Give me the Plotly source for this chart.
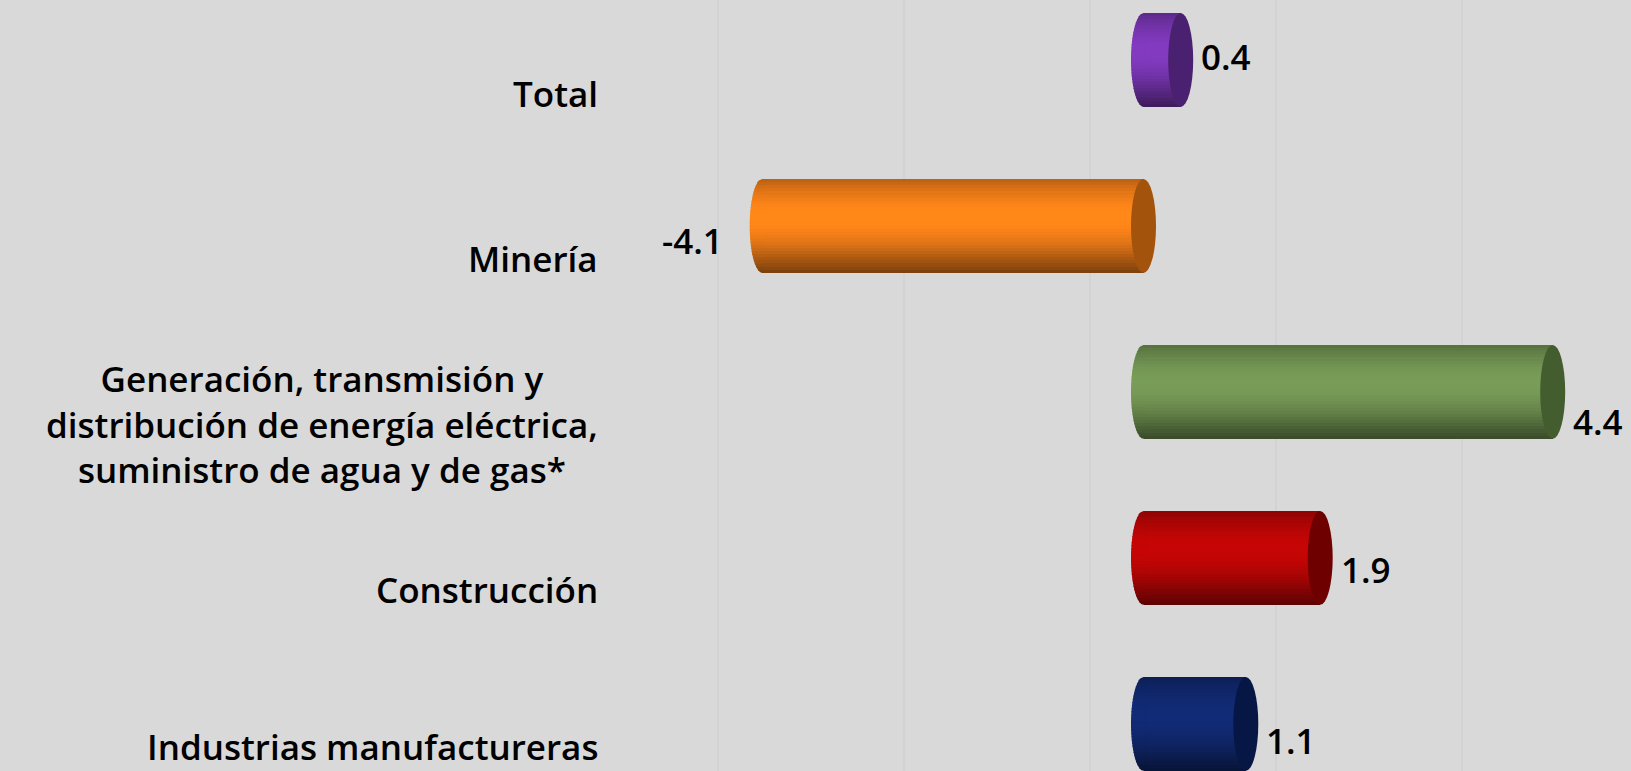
import numpy as np
import plotly.graph_objects as go

# Annual variation by sector (%)
categories = [
    "Total",
    "Minería",
    "Generación, transmisión y<br>distribución de energía eléctrica,<br>suministro de agua y de gas*",
    "Construcción",
    "Industrias manufactureras",
]
values = [0.4, -4.1, 4.4, 1.9, 1.1]

# Cylinder colours: lit body colour and the darker end face
body_colors = ["#8039bd", "#ff8519", "#769a56", "#c20505", "#112a74"]
face_colors = ["#4a2070", "#a4530c", "#445d2f", "#6e0000", "#061746"]

# Vertical nudge of each value label (pixels), mimicking the 3D layout
label_nudge_px = [-3, 15, 30, 12, 17]
# Vertical nudge of each category label (pixels)
cat_nudge_px = [34, 33, 32, 32, 23]

W, H = 1631, 771
X_RANGE = [-12.296, 5.242]
Y_RANGE = [4.284, -0.361]
px_per_x = W / (X_RANGE[1] - X_RANGE[0])
px_per_y = H / (Y_RANGE[0] - Y_RANGE[1])

BAR_H = 0.566            # bar thickness in category units
B = BAR_H / 2            # vertical semi-axis of cylinder ends
A = 12.5 / px_per_x      # horizontal semi-axis of cylinder ends
N = 30                   # shading stripes per cylinder
FONT = "Open Sans"
FONT_SIZE = 35

rows = list(range(len(categories)))


def hex_rgb(c):
    c = c.lstrip("#")
    return [int(c[i:i + 2], 16) for i in (0, 2, 4)]


def shade(color, t):
    # light from slightly above: brightest a bit above the centre line
    ang = np.pi * (t - 0.5) + 0.3
    k = 0.6 + 0.42 * np.cos(ang)
    r, g, b = [min(255, int(round(v * k))) for v in hex_rgb(color)]
    return f"rgb({r},{g},{b})"


fig = go.Figure()

dh = BAR_H / N
# Cylinder bodies as stacked horizontal stripes of the same bar
for k in range(N):
    t = (k + 0.5) / N
    w = dh * 1.3 if k < N - 1 else dh
    fig.add_trace(go.Bar(
        orientation="h",
        y=rows,
        x=values,
        base=0,
        width=w,
        offset=-B + k * dh,
        marker=dict(color=[shade(c, t) for c in body_colors], line=dict(width=0)),
        hoverinfo="skip",
        showlegend=False,
    ))

# Rounded (back) end of each cylinder, shaded the same way
for i, v in enumerate(values):
    lo = min(0.0, v)
    for k in range(N):
        t = (k + 0.5) / N
        ya = i - B + k * dh
        yb = min(i + B, ya + dh * 1.3)
        ys = np.linspace(ya, yb, 6)
        xs = lo - A * np.sqrt(np.clip(1 - ((ys - i) / B) ** 2, 0, 1))
        px_ = list(xs) + [lo + 0.02, lo + 0.02, xs[0]]
        py_ = list(ys) + [yb, ya, ys[0]]
        fig.add_trace(go.Scatter(
            x=px_, y=py_, mode="lines", line=dict(width=0),
            fill="toself", fillcolor=shade(body_colors[i], t),
            hoverinfo="skip", showlegend=False,
        ))

label_font = dict(family=FONT, size=FONT_SIZE, color="#000000", weight=600)

shapes = []
annotations = []
for i, v in enumerate(values):
    hi = max(0.0, v)
    lo = min(0.0, v)
    # visible end face
    shapes.append(dict(
        type="circle", xref="x", yref="y",
        x0=hi - A, x1=hi + A, y0=i - B, y1=i + B,
        fillcolor=face_colors[i], line=dict(width=0), layer="above",
    ))
    # value label
    dy = label_nudge_px[i] / px_per_y
    if v >= 0:
        annotations.append(dict(
            x=hi, y=i + dy, xref="x", yref="y", text=f"{v:.1f}",
            showarrow=False, xanchor="left", yanchor="middle", xshift=12.5 + 6,
            font=label_font,
        ))
    else:
        annotations.append(dict(
            x=lo, y=i + dy, xref="x", yref="y", text=f"{v:.1f}",
            showarrow=False, xanchor="right", yanchor="middle", xshift=-(12.5 + 25),
            font=label_font,
        ))
    # category label
    annotations.append(dict(
        x=600 / W, y=i + cat_nudge_px[i] / px_per_y, xref="paper", yref="y",
        text=categories[i], showarrow=False, xanchor="right", yanchor="middle",
        align="center", font=label_font,
    ))

# gridlines sit on the back wall, offset from the bars' zero line
grid_vals = [-4.575, -2.575, -0.575, 1.425, 3.425]

fig.update_layout(
    width=W, height=H, autosize=False,
    margin=dict(l=0, r=0, t=0, b=0),
    paper_bgcolor="#d9d9d9", plot_bgcolor="#d9d9d9",
    barmode="overlay", bargap=0,
    shapes=shapes, annotations=annotations,
    xaxis=dict(range=X_RANGE, tickvals=grid_vals, showticklabels=False, ticks="",
               showgrid=True, gridcolor="#d3d3d3", gridwidth=2, zeroline=False,
               showline=False, fixedrange=True),
    yaxis=dict(range=Y_RANGE, showticklabels=False, ticks="", showgrid=False,
               zeroline=False, showline=False, fixedrange=True),
)

fig.write_html("out.html")
